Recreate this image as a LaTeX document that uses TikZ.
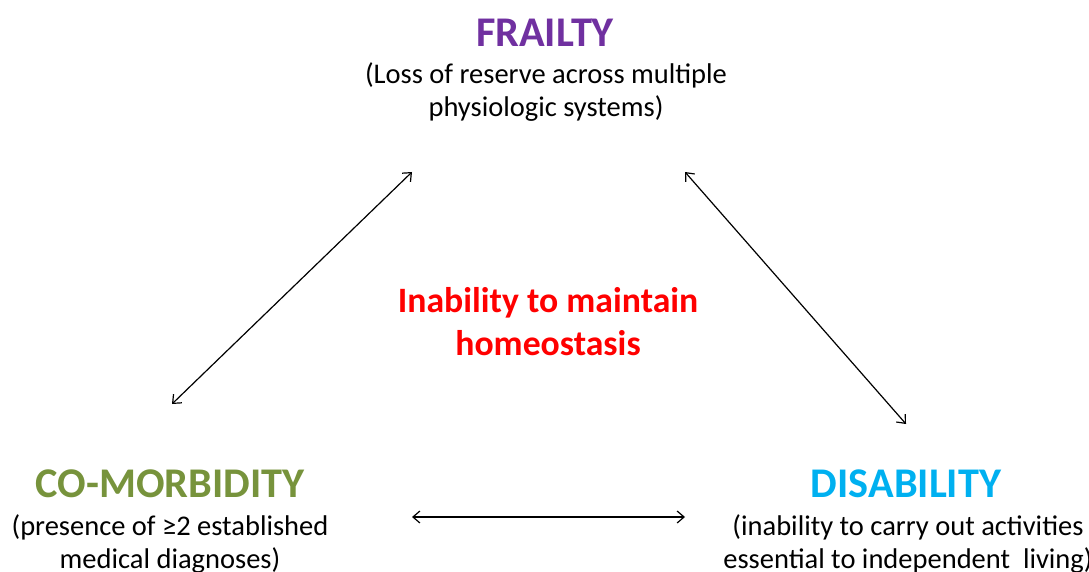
\documentclass[tikz,border=0pt]{standalone}
\usepackage{fontspec}
\setmainfont{Carlito}
\usetikzlibrary{arrows.meta}
\definecolor{frailpurple}{RGB}{112,48,160}
\definecolor{comorbgreen}{RGB}{119,147,60}
\definecolor{disabblue}{RGB}{0,176,240}
\newcommand{\headsize}{\fontsize{42.3}{46}\selectfont\bfseries}
\newcommand{\subsize}{\fontsize{28.5}{33}\selectfont}

\begin{document}
\begin{tikzpicture}[x=1pt,y=-1pt,
    head/.style={inner sep=0pt, font=\headsize},
    sub/.style={inner sep=0pt, align=center, font=\subsize},
    link/.style={<->, >={Straight Barb[length=7pt,width=12pt]}, line width=1.2pt}]
        \useasboundingbox (0,0) rectangle (1089,572);
        % the three states
        \node (frailty) at (545,33) [head, text=frailpurple] {FRAILTY};
        \node (frailtysub) at (546,92) [sub] {(Loss of reserve across multiple\\physiologic systems)};
        \node (comorb) at (170,484) [head, text=comorbgreen] {CO-MORBIDITY};
        \node (comorbsub) at (170,544) [sub] {(presence of ≥2 established\\medical diagnoses)};
        \node (disab) at (906,484) [head, text=disabblue] {DISABILITY};
        \node (disabsub) at (908,544) [sub] {(inability to carry out activities\\essential to independent\ \ living)};
        % centre
        \node (homeo) at (548,322) [inner sep=0pt, align=center, text=red,
              font=\fontsize{35.7}{43}\selectfont\bfseries] {Inability to maintain\\homeostasis};

        \coordinate (fl) at (412,172); \coordinate (cu) at (172,404);
        \coordinate (fr) at (685,172); \coordinate (du) at (906,424);
        \coordinate (cr) at (412,517); \coordinate (dl) at (685,517);
        \draw[link] (cu) -- (fl);
        \draw[link] (fr) -- (du);
        \draw[link] (cr) -- (dl);
      \end{tikzpicture}
\end{document}
